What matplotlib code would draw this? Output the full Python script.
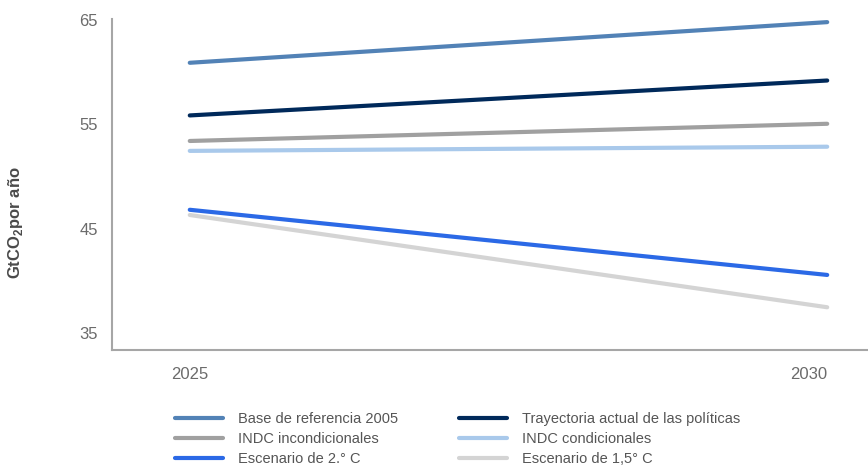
import matplotlib
matplotlib.use("Agg")
import matplotlib.pyplot as plt

plt.rcParams["font.family"] = ["Liberation Sans", "DejaVu Sans"]
plt.rcParams["mathtext.fontset"] = "custom"
plt.rcParams["mathtext.rm"] = "Liberation Sans"
plt.rcParams["mathtext.bf"] = "Liberation Sans:bold"

years = [2025, 2030]
series = ["Base de referencia 2005", "INDC incondicionales", "Escenario de 2.° C",
          "Trayectoria actual de las políticas", "INDC condicionales", "Escenario de 1,5° C"]
base_2005 = [60.9, 64.8]
indc_incond = [53.4, 55.05]
esc_2c = [46.8, 40.55]
trayectoria = [55.85, 59.2]
indc_cond = [52.45, 52.85]
esc_15c = [46.3, 37.45]
values = [base_2005, indc_incond, esc_2c, trayectoria, indc_cond, esc_15c]
colors = ["#5282b6", "#a0a0a0", "#2b69e6", "#00295a", "#a9c9eb", "#d4d4d4"]

fig = plt.figure(figsize=(8.68, 4.75), dpi=100)
ax = fig.add_axes([112/868, 1-350/475, 1-112/868, (350-19)/475])

# light lines first so the darker ones sit on top
order = [5, 4, 1, 0, 3, 2]
handles = {}
for i in order:
    ln, = ax.plot(years, values[i], color=colors[i], lw=3.0, solid_capstyle="round",
                  label=series[i])
    handles[i] = ln

ax.set_xlim(2024.39, 2030.32)
ax.set_ylim(33.35, 65.1)
ax.set_yticks([35, 45, 55, 65])
ax.set_xticks(years)
ax.set_xticklabels([str(y) for y in years])
xl = ax.get_xticklabels()
xl[1].set_horizontalalignment("right")
ax.tick_params(length=0, labelsize=12, labelcolor="#6b6b6b")
ax.tick_params(axis="x", pad=12)
ax.tick_params(axis="y", pad=10)
for s in ["top", "right"]:
    ax.spines[s].set_visible(False)
for s in ["left", "bottom"]:
    ax.spines[s].set_color("#a6a6a6")
    ax.spines[s].set_linewidth(1.5)

fig.text(16/868, 1-223/475, "GtCO$_\\mathbf{2}$por año", rotation=90, ha="center", va="center",
         fontsize=12, color="#4a4a4a", fontweight="bold")

fig.legend([handles[i] for i in range(6)], series, ncol=2, loc="upper left",
           bbox_to_anchor=(175/868, 1-412/475), frameon=False, fontsize=10.5,
           handlelength=3.3, handletextpad=1.0, columnspacing=4.2,
           labelspacing=0.42, borderpad=0, borderaxespad=0, labelcolor="#555555")

fig.savefig("out.png", dpi=100)
